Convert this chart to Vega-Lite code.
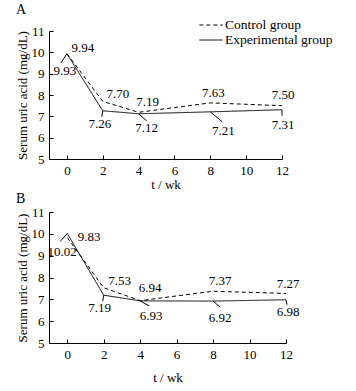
{
  "$schema": "https://vega.github.io/schema/vega-lite/v6.json",
  "padding": {"left": 15, "top": 3, "right": 5, "bottom": 3},
  "background": "white",
  "datasets": {
    "d": [
      {"panel": "A", "group": "Control group", "t": 0, "v": 9.94},
      {"panel": "A", "group": "Control group", "t": 2, "v": 7.70},
      {"panel": "A", "group": "Control group", "t": 4, "v": 7.19},
      {"panel": "A", "group": "Control group", "t": 8, "v": 7.63},
      {"panel": "A", "group": "Control group", "t": 12, "v": 7.50},
      {"panel": "A", "group": "Experimental group", "t": 0, "v": 9.93},
      {"panel": "A", "group": "Experimental group", "t": 2, "v": 7.26},
      {"panel": "A", "group": "Experimental group", "t": 4, "v": 7.12},
      {"panel": "A", "group": "Experimental group", "t": 8, "v": 7.21},
      {"panel": "A", "group": "Experimental group", "t": 12, "v": 7.31},
      {"panel": "B", "group": "Control group", "t": 0, "v": 9.83},
      {"panel": "B", "group": "Control group", "t": 2, "v": 7.53},
      {"panel": "B", "group": "Control group", "t": 4, "v": 6.94},
      {"panel": "B", "group": "Control group", "t": 8, "v": 7.37},
      {"panel": "B", "group": "Control group", "t": 12, "v": 7.27},
      {"panel": "B", "group": "Experimental group", "t": 0, "v": 10.02},
      {"panel": "B", "group": "Experimental group", "t": 2, "v": 7.19},
      {"panel": "B", "group": "Experimental group", "t": 4, "v": 6.93},
      {"panel": "B", "group": "Experimental group", "t": 8, "v": 6.92},
      {"panel": "B", "group": "Experimental group", "t": 12, "v": 6.98}
    ]
  },
  "data": {"name": "d"},
  "spacing": 1,
  "resolve": {"scale": {"strokeDash": "independent"}, "legend": {"strokeDash": "independent"}},
  "vconcat": [
    {
      "width": 233,
      "height": 128,
      "title": {"text": "A", "anchor": "start", "frame": "bounds", "dx": 0, "offset": 0},
      "transform": [{"filter": "datum.panel === 'A'"}],
      "encoding": {
        "x": {"field": "t", "type": "quantitative", "scale": {"domain": [-1, 12], "nice": false, "zero": false}, "axis": {"values": [0, 2, 4, 6, 8, 10, 12], "title": "t / wk", "titlePadding": 1}},
        "y": {"field": "v", "type": "quantitative", "scale": {"domain": [5, 11], "nice": false, "zero": false}, "axis": {"values": [5, 6, 7, 8, 9, 10, 11], "title": "Serum uric acid (mg/dL)"}}
      },
      "layer": [
        {
          "mark": {"type": "line", "color": "black", "strokeWidth": 1},
          "encoding": {
            "strokeDash": {"field": "group", "type": "nominal", "scale": {"domain": ["Control group", "Experimental group"], "range": [[4, 3], [1, 0]]},
              "legend": {"title": null, "orient": "none", "legendX": 154, "legendY": -14, "padding": 0, "symbolType": "M-1.55,0H1.55", "symbolSize": 225, "symbolStrokeColor": "black", "symbolStrokeWidth": 1, "labelFontSize": 13.5, "labelColor": "black", "rowPadding": 0, "labelOffset": 6}}
          }
        },
        {"mark": {"type": "rule", "x2Offset": -6, "y2Offset": 9}, "transform": [{"filter": "datum.group === 'Experimental group' && datum.t === 0"}], "encoding": {"x2": {"field": "t"}, "y2": {"field": "v"}}},
        {"mark": {"type": "rule", "x2Offset": -1, "y2Offset": 6}, "transform": [{"filter": "datum.group === 'Experimental group' && datum.t === 2"}], "encoding": {"x2": {"field": "t"}, "y2": {"field": "v"}}},
        {"mark": {"type": "rule", "x2Offset": 8, "y2Offset": 7}, "transform": [{"filter": "datum.group === 'Experimental group' && datum.t === 4"}], "encoding": {"x2": {"field": "t"}, "y2": {"field": "v"}}},
        {"mark": {"type": "rule", "x2Offset": 12, "y2Offset": 10}, "transform": [{"filter": "datum.group === 'Experimental group' && datum.t === 8"}], "encoding": {"x2": {"field": "t"}, "y2": {"field": "v"}}},
        {"mark": {"type": "rule", "x2Offset": 0, "y2Offset": 6}, "transform": [{"filter": "datum.group === 'Experimental group' && datum.t === 12"}], "encoding": {"x2": {"field": "t"}, "y2": {"field": "v"}}},
        {"mark": {"type": "text", "dx": 16, "dy": -6}, "transform": [{"filter": "datum.group === 'Control group' && datum.t === 0"}], "encoding": {"text": {"field": "v", "format": ".2f"}}},
        {"mark": {"type": "text", "dx": 15, "dy": -7}, "transform": [{"filter": "datum.group === 'Control group' && datum.t === 2"}], "encoding": {"text": {"field": "v", "format": ".2f"}}},
        {"mark": {"type": "text", "dx": 9, "dy": -10}, "transform": [{"filter": "datum.group === 'Control group' && datum.t === 4"}], "encoding": {"text": {"field": "v", "format": ".2f"}}},
        {"mark": {"type": "text", "dx": 3, "dy": -10}, "transform": [{"filter": "datum.group === 'Control group' && datum.t === 8"}], "encoding": {"text": {"field": "v", "format": ".2f"}}},
        {"mark": {"type": "text", "dx": 1, "dy": -11}, "transform": [{"filter": "datum.group === 'Control group' && datum.t === 12"}], "encoding": {"text": {"field": "v", "format": ".2f"}}},
        {"mark": {"type": "text", "dx": -2, "dy": 17}, "transform": [{"filter": "datum.group === 'Experimental group' && datum.t === 0"}], "encoding": {"text": {"field": "v", "format": ".2f"}}},
        {"mark": {"type": "text", "dx": -3, "dy": 13}, "transform": [{"filter": "datum.group === 'Experimental group' && datum.t === 2"}], "encoding": {"text": {"field": "v", "format": ".2f"}}},
        {"mark": {"type": "text", "dx": 8, "dy": 14}, "transform": [{"filter": "datum.group === 'Experimental group' && datum.t === 4"}], "encoding": {"text": {"field": "v", "format": ".2f"}}},
        {"mark": {"type": "text", "dx": 13, "dy": 19}, "transform": [{"filter": "datum.group === 'Experimental group' && datum.t === 8"}], "encoding": {"text": {"field": "v", "format": ".2f"}}},
        {"mark": {"type": "text", "dx": 1, "dy": 15}, "transform": [{"filter": "datum.group === 'Experimental group' && datum.t === 12"}], "encoding": {"text": {"field": "v", "format": ".2f"}}}
      ]
    },
    {
      "width": 237,
      "height": 131,
      "title": {"text": "B", "anchor": "start", "frame": "bounds", "dx": 0, "offset": 0},
      "transform": [{"filter": "datum.panel === 'B'"}],
      "encoding": {
        "x": {"field": "t", "type": "quantitative", "scale": {"domain": [-1, 12], "nice": false, "zero": false}, "axis": {"values": [0, 2, 4, 6, 8, 10, 12], "title": "t / wk", "titlePadding": 10}},
        "y": {"field": "v", "type": "quantitative", "scale": {"domain": [5, 11], "nice": false, "zero": false}, "axis": {"values": [5, 6, 7, 8, 9, 10, 11], "title": "Serum uric acid (mg/dL)"}}
      },
      "layer": [
        {
          "mark": {"type": "line", "color": "black", "strokeWidth": 1},
          "encoding": {
            "strokeDash": {"field": "group", "type": "nominal", "scale": {"domain": ["Control group", "Experimental group"], "range": [[4, 3], [1, 0]]}, "legend": null}
          }
        },
        {"mark": {"type": "rule", "x2Offset": -7, "y2Offset": 8}, "transform": [{"filter": "datum.group === 'Experimental group' && datum.t === 0"}], "encoding": {"x2": {"field": "t"}, "y2": {"field": "v"}}},
        {"mark": {"type": "rule", "x2Offset": -1, "y2Offset": 6}, "transform": [{"filter": "datum.group === 'Experimental group' && datum.t === 2"}], "encoding": {"x2": {"field": "t"}, "y2": {"field": "v"}}},
        {"mark": {"type": "rule", "x2Offset": 9, "y2Offset": 5}, "transform": [{"filter": "datum.group === 'Experimental group' && datum.t === 4"}], "encoding": {"x2": {"field": "t"}, "y2": {"field": "v"}}},
        {"mark": {"type": "rule", "x2Offset": 7, "y2Offset": 6}, "transform": [{"filter": "datum.group === 'Experimental group' && datum.t === 8"}], "encoding": {"x2": {"field": "t"}, "y2": {"field": "v"}}},
        {"mark": {"type": "rule", "x2Offset": 1, "y2Offset": 5}, "transform": [{"filter": "datum.group === 'Experimental group' && datum.t === 12"}], "encoding": {"x2": {"field": "t"}, "y2": {"field": "v"}}},
        {"mark": {"type": "text", "dx": 22, "dy": -1}, "transform": [{"filter": "datum.group === 'Control group' && datum.t === 0"}], "encoding": {"text": {"field": "v", "format": ".2f"}}},
        {"mark": {"type": "text", "dx": 16, "dy": -7}, "transform": [{"filter": "datum.group === 'Control group' && datum.t === 2"}], "encoding": {"text": {"field": "v", "format": ".2f"}}},
        {"mark": {"type": "text", "dx": 10, "dy": -13}, "transform": [{"filter": "datum.group === 'Control group' && datum.t === 4"}], "encoding": {"text": {"field": "v", "format": ".2f"}}},
        {"mark": {"type": "text", "dx": 7, "dy": -10}, "transform": [{"filter": "datum.group === 'Control group' && datum.t === 8"}], "encoding": {"text": {"field": "v", "format": ".2f"}}},
        {"mark": {"type": "text", "dx": 2, "dy": -9}, "transform": [{"filter": "datum.group === 'Control group' && datum.t === 12"}], "encoding": {"text": {"field": "v", "format": ".2f"}}},
        {"mark": {"type": "text", "dx": -5, "dy": 19}, "transform": [{"filter": "datum.group === 'Experimental group' && datum.t === 0"}], "encoding": {"text": {"field": "v", "format": ".2f"}}},
        {"mark": {"type": "text", "dx": -4, "dy": 13}, "transform": [{"filter": "datum.group === 'Experimental group' && datum.t === 2"}], "encoding": {"text": {"field": "v", "format": ".2f"}}},
        {"mark": {"type": "text", "dx": 11, "dy": 15}, "transform": [{"filter": "datum.group === 'Experimental group' && datum.t === 4"}], "encoding": {"text": {"field": "v", "format": ".2f"}}},
        {"mark": {"type": "text", "dx": 7, "dy": 17}, "transform": [{"filter": "datum.group === 'Experimental group' && datum.t === 8"}], "encoding": {"text": {"field": "v", "format": ".2f"}}},
        {"mark": {"type": "text", "dx": 2, "dy": 12}, "transform": [{"filter": "datum.group === 'Experimental group' && datum.t === 12"}], "encoding": {"text": {"field": "v", "format": ".2f"}}}
      ]
    }
  ],
  "config": {
    "font": "Liberation Serif, Times New Roman, serif",
    "view": {"stroke": null},
    "title": {"font": "Liberation Serif, Times New Roman, serif", "fontSize": 14, "fontWeight": "normal", "color": "black"},
    "axis": {"grid": false, "domainColor": "black", "tickColor": "black", "tickSize": -4, "labelPadding": 9, "labelFont": "Liberation Serif, Times New Roman, serif", "labelFontSize": 13, "labelColor": "black", "titleFont": "Liberation Serif, Times New Roman, serif", "titleFontSize": 13, "titleFontWeight": "normal", "titleColor": "black", "labelFlush": false, "labelOverlap": false},
    "axisY": {"titlePadding": 2},
    "legend": {"labelFont": "Liberation Serif, Times New Roman, serif"},
    "text": {"font": "Liberation Serif, Times New Roman, serif", "fontSize": 13, "color": "black", "align": "center", "baseline": "middle"},
    "rule": {"color": "black", "strokeWidth": 1}
  }
}
